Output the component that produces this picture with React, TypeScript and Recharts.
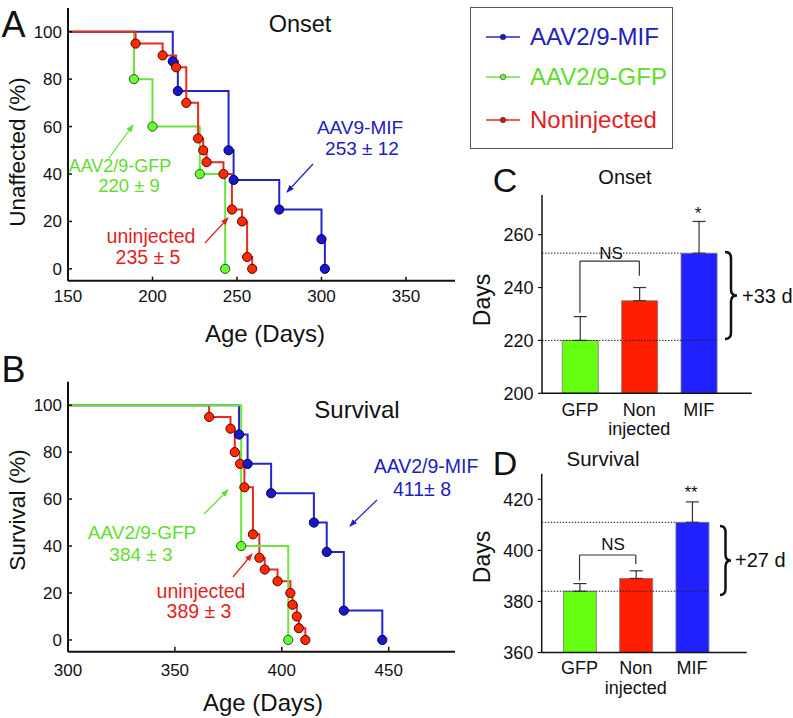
import { LineChart, Line, XAxis, YAxis, BarChart, Bar, Cell, ErrorBar, ReferenceLine } from "recharts";

const FONT = '"Liberation Sans", Arial, Helvetica, sans-serif';
const INK = "#111";

const BLUE = "#2424cc";
const GREEN = "#69e63c";
const RED = "#e8291d";
const TEXT_BLUE = "#2020c0";
const TEXT_GREEN = "#5fdd2c";
const TEXT_RED = "#e41e1e";

// A: onset (Kaplan-Meier, % unaffected)
const onsetMifDays = [212, 215, 245, 248, 275, 300, 302];
const onsetMifPct = [87.5, 75, 50, 37.5, 25, 12.5, 0];
const onsetGfpDays = [189, 200, 228, 243];
const onsetGfpPct = [80, 60, 40, 0];
const onsetUninjDays = [190, 206, 214, 220, 227, 230, 232, 242, 247, 253, 256, 259];
const onsetUninjPct = [95, 90, 85, 70, 55, 50, 45, 40, 25, 20, 5, 0];

// B: survival
const survMifDays = [380, 384, 395, 415, 421, 429, 447];
const survMifPct = [87.5, 75, 62.5, 50, 37.5, 12.5, 0];
const survGfpDays = [381, 403];
const survGfpPct = [40, 0];
const survUninjDays = [366, 376, 378, 380.5, 382.5, 386.5, 389.5, 392, 398, 404, 405, 407, 408, 411];
const survUninjPct = [95, 90, 80, 75, 65, 45, 35, 30, 25, 20, 15, 10, 5, 0];

const onsetTicksX = [150, 200, 250, 300, 350];
const survTicksX = [300, 350, 400, 450];
const pctTicks = [0, 20, 40, 60, 80, 100];

// C, D: mean days +/- sem
const groups = ["GFP", "Non injected", "MIF"];
const onsetMeans = [220, 235, 253];
const onsetSem = [9, 5, 12];
const survMeans = [384, 389, 411];
const survSem = [3, 3, 8];
const onsetDaysTicks = [200, 220, 240, 260];
const survDaysTicks = [360, 380, 400, 420];
const onsetBracket = [230.5, 250, 244.5];
const survBracket = [388.2, 398.2, 394.7];

const barColors = ["#66ff12", "#ff1f00", "#2121ff"];

const km = (start: number, days: number[], pct: number[]) => [
  { day: start, pct: 100, first: true },
  ...days.map((d, i) => ({ day: d, pct: pct[i], first: false })),
];

const kmDot = (fill: string, edge: string) => (p: any) =>
  p.payload.first ? (
    <g key={`s-${p.index}`} />
  ) : (
    <circle key={`d-${p.index}`} cx={p.cx} cy={p.cy} r={4.6} fill={fill} stroke={edge} strokeWidth={1} />
  );

const onsetSeries = [
  { name: "gfp", data: km(150, onsetGfpDays, onsetGfpPct), color: GREEN, fill: "#66ff33", edge: "#225511" },
  { name: "mif", data: km(150, onsetMifDays, onsetMifPct), color: BLUE, fill: "#1818c8", edge: "#000055" },
  { name: "uninj", data: km(150, onsetUninjDays, onsetUninjPct), color: RED, fill: "#ff2a00", edge: "#550000" },
];

const survSeries = [
  { name: "uninj", data: km(300, survUninjDays, survUninjPct), color: RED, fill: "#ff2a00", edge: "#550000" },
  { name: "mif", data: km(300, survMifDays, survMifPct), color: BLUE, fill: "#1818c8", edge: "#000055" },
  { name: "gfp", data: km(300, survGfpDays, survGfpPct), color: GREEN, fill: "#66ff33", edge: "#225511" },
];

const barData = (means: number[], sem: number[]) =>
  groups.map((g, i) => ({ group: g, days: means[i], err: [0, sem[i]] }));

function KmChart({ left, top, marginTop, xAxisHeight, xDomain, xTicks, xTickSize, xTickMargin, series }: any) {
  return (
    <div style={{ position: "absolute", left, top }}>
      <LineChart width={470} height={330} margin={{ top: marginTop, right: 15, bottom: 0, left: 0 }}>
        <XAxis
          type="number"
          dataKey="day"
          domain={xDomain}
          ticks={xTicks}
          interval={0}
          allowDataOverflow
          height={xAxisHeight}
          axisLine={{ stroke: INK, strokeWidth: 2 }}
          tickLine={{ stroke: INK, strokeWidth: 1.5 }}
          tickSize={xTickSize}
          tickMargin={xTickMargin}
          tick={{ fontSize: 17, fill: INK, fontFamily: FONT }}
        />
        <YAxis
          type="number"
          domain={[-5, 110]}
          ticks={pctTicks}
          interval={0}
          allowDataOverflow
          width={68}
          axisLine={{ stroke: INK, strokeWidth: 2 }}
          tickLine={{ stroke: INK, strokeWidth: 1.5 }}
          tickSize={-4}
          tickMargin={10}
          tick={{ fontSize: 17, fill: INK, fontFamily: FONT }}
        />
        {series.map((s: any) => (
          <Line
            key={s.name}
            data={s.data}
            dataKey="pct"
            type="stepAfter"
            stroke={s.color}
            strokeWidth={2}
            dot={kmDot(s.fill, s.edge)}
            activeDot={false}
            isAnimationActive={false}
          />
        ))}
      </LineChart>
    </div>
  );
}

const GroupTick = (p: any) => {
  const lines = String(p.payload.value).split(" ");
  return (
    <text x={p.x} y={p.y} textAnchor="middle" fontSize={18} fontFamily={FONT} fill={INK}>
      {lines.map((l, i) => (
        <tspan key={i} x={p.x} dy={i === 0 ? "0.71em" : "1.08em"}>
          {l}
        </tspan>
      ))}
    </text>
  );
};

const dottedLine = (cut: number) => (p: any) => (
  <line x1={p.x1} y1={p.y1} x2={p.x2 - cut} y2={p.y2} stroke="#222" strokeWidth={1} strokeDasharray="1.5 1.5" />
);

function DaysChart({ left, top, width, height, marginTop, marginRight, yWidth, xAxisHeight, domain, ticks, means, sem, pad, barSize, tickMargin, bracket }: any) {
  const plotW = width - yWidth - marginRight;
  const band = (plotW - pad.left - pad.right) / groups.length;
  const cutLast = pad.right + (band - barSize) / 2;
  return (
    <div style={{ position: "absolute", left, top }}>
      <BarChart width={width} height={height} data={barData(means, sem)} margin={{ top: marginTop, right: marginRight, bottom: 0, left: 0 }}>
        <XAxis
          dataKey="group"
          height={xAxisHeight}
          padding={pad}
          axisLine={{ stroke: INK, strokeWidth: 1.5 }}
          tickLine={false}
          tickSize={0}
          tickMargin={tickMargin}
          interval={0}
          tick={(p: any) => <GroupTick {...p} />}
        />
        <YAxis
          type="number"
          domain={domain}
          ticks={ticks}
          interval={0}
          allowDataOverflow
          width={yWidth}
          axisLine={{ stroke: INK, strokeWidth: 1.5 }}
          tickLine={{ stroke: INK, strokeWidth: 1.2 }}
          tickSize={4}
          tickMargin={4.5}
          tick={{ fontSize: 18, fill: INK, fontFamily: FONT }}
        />
        <Bar dataKey="days" barSize={barSize} stroke="#777" strokeWidth={0.8} isAnimationActive={false}>
          {groups.map((g, i) => (
            <Cell key={g} fill={barColors[i]} />
          ))}
          <ErrorBar dataKey="err" direction="y" width={6.5} stroke="#333" strokeWidth={1.2} />
        </Bar>
        <ReferenceLine y={means[2]} shape={dottedLine(cutLast + barSize)} />
        <ReferenceLine y={means[0]} shape={dottedLine(cutLast)} />
        <ReferenceLine segment={[{ x: groups[0], y: bracket[0] }, { x: groups[0], y: bracket[1] }]} stroke="#333" strokeWidth={1.2} />
        <ReferenceLine segment={[{ x: groups[0], y: bracket[1] }, { x: groups[1], y: bracket[1] }]} stroke="#333" strokeWidth={1.2} />
        <ReferenceLine segment={[{ x: groups[1], y: bracket[1] }, { x: groups[1], y: bracket[2] }]} stroke="#333" strokeWidth={1.2} />
      </BarChart>
    </div>
  );
}

const Txt = ({ x, y, size, color = INK, rotate, anchor = "middle", children }: any) => (
  <div
    style={{
      position: "absolute",
      left: x,
      top: y,
      fontSize: size,
      color,
      lineHeight: 1,
      whiteSpace: "nowrap",
      transform: `translate(${anchor === "start" ? "0" : "-50%"}, -50%)${rotate ? ` rotate(${rotate}deg)` : ""}`,
    }}
  >
    {children}
  </div>
);

const arrows = [
  { x1: 313, y1: 164, x2: 287, y2: 192, c: TEXT_BLUE, id: "b" },
  { x1: 109, y1: 158, x2: 133, y2: 125, c: TEXT_GREEN, id: "g" },
  { x1: 205, y1: 243, x2: 228, y2: 218, c: TEXT_RED, id: "r" },
  { x1: 377, y1: 500, x2: 350, y2: 526, c: TEXT_BLUE, id: "b" },
  { x1: 204, y1: 514, x2: 228, y2: 490, c: TEXT_GREEN, id: "g" },
  { x1: 233, y1: 577, x2: 252, y2: 554, c: TEXT_RED, id: "r" },
];

const brace = (x: number, y0: number, y1: number, w: number) => {
  const m = (y0 + y1) / 2;
  const h = 6;
  const xm = x + w / 2;
  return `M${x},${y0} Q${xm},${y0} ${xm},${y0 + h} L${xm},${m - h} Q${xm},${m} ${x + w},${m} Q${xm},${m} ${xm},${m + h} L${xm},${y1 - h} Q${xm},${y1} ${x},${y1}`;
};

const legendItems = [
  { label: "AAV2/9-MIF", color: BLUE, text: TEXT_BLUE, fill: "#1818c8", y: 37 },
  { label: "AAV2/9-GFP", color: GREEN, text: TEXT_GREEN, fill: "#66ff33", y: 77 },
  { label: "Noninjected", color: RED, text: TEXT_RED, fill: "#cc2200", y: 120 },
];

export default function App() {
  return (
    <div style={{ position: "absolute", left: 0, top: 0, width: 793, height: 718, background: "#fff", fontFamily: FONT, overflow: "hidden" }}>
      <KmChart left={0} top={0} marginTop={8} xAxisHeight={49.3} xDomain={[150, 379]} xTicks={onsetTicksX} xTickSize={-4} xTickMargin={13} series={onsetSeries} />
      <KmChart left={0} top={370} marginTop={11.7} xAxisHeight={48.3} xDomain={[300, 481]} xTicks={survTicksX} xTickSize={-5} xTickMargin={17} series={survSeries} />

      <DaysChart
        left={470} top={190} width={300} height={260} marginTop={5} marginRight={18.3} yWidth={72} xAxisHeight={56.7}
        domain={[200, 275]} ticks={onsetDaysTicks} means={onsetMeans} sem={onsetSem}
        pad={{ left: 8.25, right: 23.25 }} barSize={36} tickMargin={9.6} bracket={onsetBracket}
      />
      <DaysChart
        left={470} top={468} width={290} height={250} marginTop={5.8} marginRight={13.3} yWidth={71.7} xAxisHeight={65.5}
        domain={[360, 430]} ticks={survDaysTicks} means={survMeans} sem={survSem}
        pad={{ left: 9.7, right: 26.5 }} barSize={33} tickMargin={9.1} bracket={survBracket}
      />

      <svg width={793} height={718} style={{ position: "absolute", left: 0, top: 0, pointerEvents: "none" }}>
        <defs>
          {[["b", TEXT_BLUE], ["g", TEXT_GREEN], ["r", TEXT_RED]].map(([id, c]) => (
            <marker key={id} id={`ah-${id}`} markerUnits="userSpaceOnUse" markerWidth={8} markerHeight={6} refX={7} refY={3} orient="auto">
              <path d="M0,0 L8,3 L0,6 z" fill={c} />
            </marker>
          ))}
        </defs>
        {arrows.map((a, i) => (
          <line key={i} x1={a.x1} y1={a.y1} x2={a.x2} y2={a.y2} stroke={a.c} strokeWidth={1.2} markerEnd={`url(#ah-${a.id})`} />
        ))}
        <path d={brace(725, 252, 339, 12)} fill="none" stroke={INK} strokeWidth={2.5} />
        <path d={brace(720, 526, 595, 11)} fill="none" stroke={INK} strokeWidth={2.5} />
      </svg>

      <div style={{ position: "absolute", left: 470, top: 7, width: 203, height: 142, border: "1.5px solid #555", boxSizing: "border-box" }} />
      {legendItems.map((it) => (
        <div key={it.label}>
          <svg width={34} height={10} style={{ position: "absolute", left: 486, top: it.y - 5 }}>
            <line x1={0} y1={5} x2={34} y2={5} stroke={it.color} strokeWidth={1.5} />
            <circle cx={17} cy={5} r={2.8} fill={it.fill} stroke="#333" strokeWidth={0.6} />
          </svg>
          <Txt x={530} y={it.y} size={24} color={it.text} anchor="start">{it.label}</Txt>
        </div>
      ))}

      <Txt x={13.5} y={25} size={36}>A</Txt>
      <Txt x={300} y={25} size={23.5}>Onset</Txt>
      <Txt x={18} y={152} size={22.5} rotate={-90}>Unaffected (%)</Txt>
      <Txt x={265} y={334} size={24}>Age (Days)</Txt>
      <Txt x={360} y={127} size={19} color={TEXT_BLUE}>AAV9-MIF</Txt>
      <Txt x={362} y={148} size={19} color={TEXT_BLUE}>253 ± 12</Txt>
      <Txt x={120} y={166} size={18} color={TEXT_GREEN}>AAV2/9-GFP</Txt>
      <Txt x={129} y={185.5} size={18.5} color={TEXT_GREEN}>220 ± 9</Txt>
      <Txt x={151} y={237} size={19.5} color={TEXT_RED}>uninjected</Txt>
      <Txt x={148} y={258} size={19.5} color={TEXT_RED}>235 ± 5</Txt>

      <Txt x={13.5} y={370} size={36}>B</Txt>
      <Txt x={357} y={410} size={24}>Survival</Txt>
      <Txt x={18} y={510} size={22.5} rotate={-90}>Survival (%)</Txt>
      <Txt x={263} y={703} size={24}>Age (Days)</Txt>
      <Txt x={426} y={467} size={19.5} color={TEXT_BLUE}>AAV2/9-MIF</Txt>
      <Txt x={422} y={490} size={19.5} color={TEXT_BLUE}>411± 8</Txt>
      <Txt x={142} y={531.5} size={19} color={TEXT_GREEN}>AAV2/9-GFP</Txt>
      <Txt x={141} y={553.5} size={19} color={TEXT_GREEN}>384 ± 3</Txt>
      <Txt x={201} y={592} size={19.5} color={TEXT_RED}>uninjected</Txt>
      <Txt x={199} y={612} size={19.5} color={TEXT_RED}>389 ± 3</Txt>

      <Txt x={505} y={180} size={34}>C</Txt>
      <Txt x={625} y={177} size={20}>Onset</Txt>
      <Txt x={482} y={300} size={23} rotate={-90}>Days</Txt>
      <Txt x={611} y={253} size={17}>NS</Txt>
      <Txt x={698} y={213} size={17}>*</Txt>
      <Txt x={742} y={296} size={20} anchor="start">+33 d</Txt>

      <Txt x={505} y={463} size={34}>D</Txt>
      <Txt x={603} y={459} size={20.5}>Survival</Txt>
      <Txt x={482} y={557} size={23} rotate={-90}>Days</Txt>
      <Txt x={613} y={544} size={17}>NS</Txt>
      <Txt x={691} y={492} size={17}>**</Txt>
      <Txt x={735} y={560} size={20} anchor="start">+27 d</Txt>
    </div>
  );
}
